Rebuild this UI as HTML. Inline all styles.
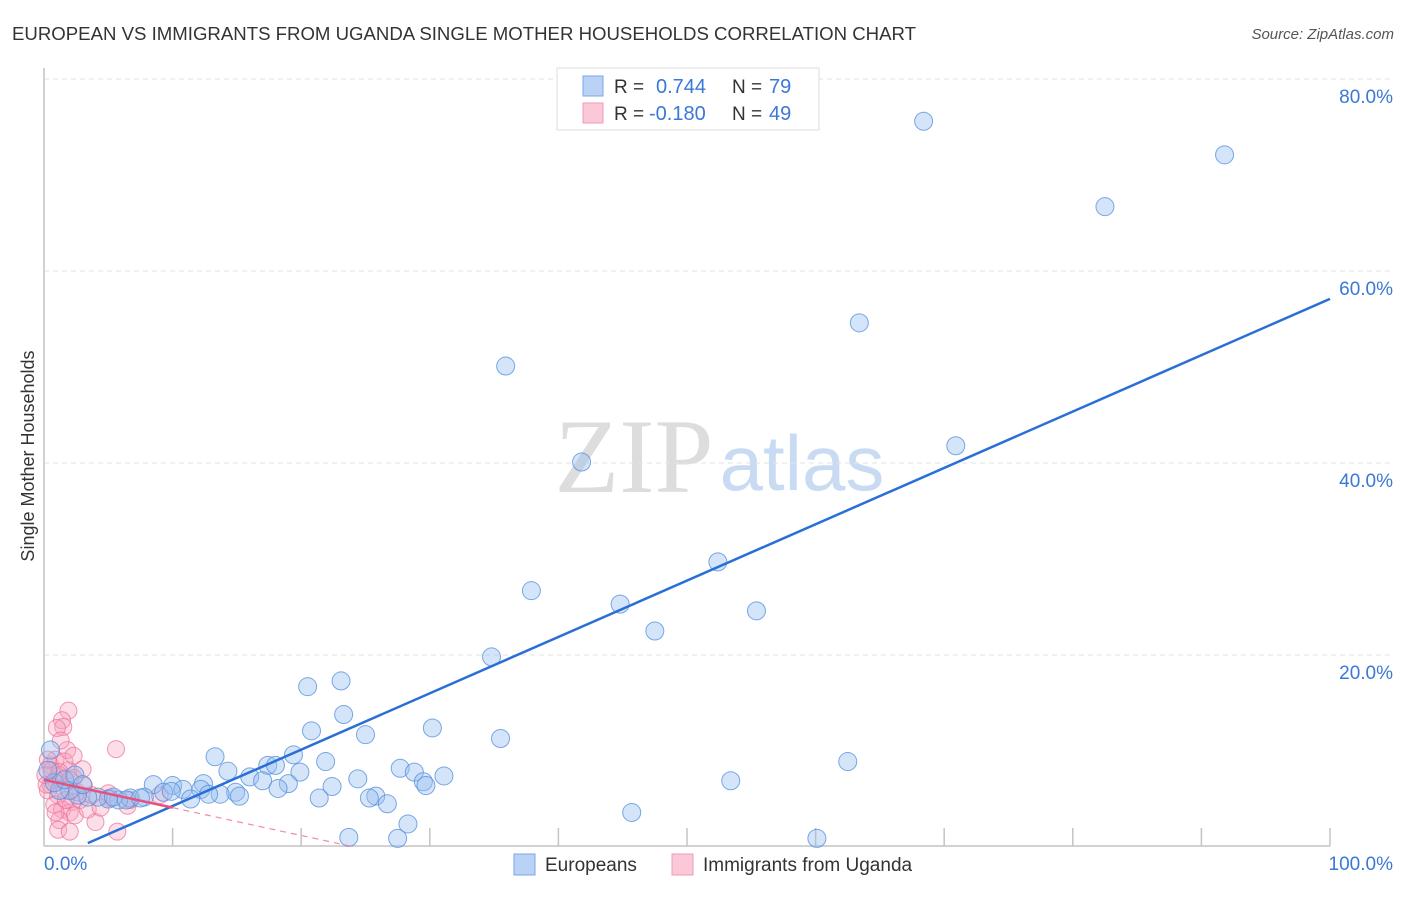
<!DOCTYPE html>
<html><head><meta charset="utf-8"><style>
body{margin:0;background:#fff;font-family:"Liberation Sans",sans-serif;}
svg text{font-family:"Liberation Sans",sans-serif;}
</style></head><body>
<svg id="chart" width="1406" height="892">
<text x="12" y="40" font-size="18" fill="#333" textLength="904" lengthAdjust="spacingAndGlyphs">EUROPEAN VS IMMIGRANTS FROM UGANDA SINGLE MOTHER HOUSEHOLDS CORRELATION CHART</text>
<text x="1394" y="39" font-size="15" fill="#555" text-anchor="end" font-style="italic">Source: ZipAtlas.com</text>
<text x="34" y="456" font-size="18" fill="#333" text-anchor="middle" transform="rotate(-90 34 456)">Single Mother Households</text>
<g><text x="634" y="492" font-size="106" fill="#ddd" text-anchor="middle" style="font-family:'Liberation Serif',serif">ZIP</text><text x="802" y="490" font-size="78" fill="#c9dbf3" text-anchor="middle">atlas</text></g>
<g id="grid"></g><g id="axes"></g><g id="pts"></g><g id="lines"></g>
<g>
<rect x="557" y="68" width="262" height="62" fill="#fff" stroke="#ddd"/>
<rect x="583" y="76" width="20" height="20" fill="#b9d2f5" stroke="#7aa7e6"/>
<rect x="583" y="103" width="20" height="20" fill="#fbc8d8" stroke="#f19ab8"/>
<text x="614" y="93" font-size="19" fill="#333">R = </text><text x="656" y="93" font-size="20" fill="#3a78d6">0.744</text>
<text x="732" y="93" font-size="19" fill="#333">N = </text><text x="769" y="93" font-size="20" fill="#3a78d6">79</text>
<text x="614" y="120" font-size="19" fill="#333">R = </text><text x="649" y="120" font-size="20" fill="#3a78d6">-0.180</text>
<text x="732" y="120" font-size="19" fill="#333">N = </text><text x="769" y="120" font-size="20" fill="#3a78d6">49</text>
</g>
<g>
<rect x="514" y="854" width="21" height="21" fill="#b9d2f5" stroke="#7aa7e6"/>
<text x="545" y="871" font-size="19" fill="#333">Europeans</text>
<rect x="672" y="854" width="21" height="21" fill="#fbc8d8" stroke="#f19ab8"/>
<text x="703" y="871" font-size="19" fill="#333">Immigrants from Uganda</text>
</g>
</svg>
<script>
const yTicks=[20,40,60,80];
const yTickLabels=["20.0%","40.0%","60.0%","80.0%"];
const xTicks=[10,20,30,40,50,60,70,80,90,100];
const blueX=[68.4,91.8,82.5,63.4,35.9,70.9,41.8,52.4,37.9,44.8,55.4,47.5,34.8,20.5,23.1,23.3,20.8,30.2,25.0,35.5,13.3,62.5,53.4,19.4,21.9,17.4,18.0,14.3,16.0,17.0,19.9,27.7,28.8,31.1,24.4,29.5,29.7,22.4,19.0,18.2,14.9,12.4,12.2,13.7,15.2,10.0,8.5,10.8,9.3,11.4,12.8,9.9,7.8,6.7,5.8,5.0,4.2,3.4,2.6,2.0,1.2,0.8,0.5,0.3,1.6,25.8,25.3,21.4,26.7,45.7,28.3,23.7,27.5,60.1,2.4,3.0,5.4,6.4,7.5];
const blueY=[75.6,72.1,66.7,54.6,50.1,41.8,40.1,29.7,26.7,25.3,24.6,22.5,19.8,16.7,17.3,13.8,12.1,12.4,11.7,11.3,9.4,8.9,6.9,9.6,8.9,8.5,8.5,7.9,7.3,6.9,7.8,8.2,7.8,7.4,7.1,6.8,6.4,6.3,6.6,6.1,5.7,6.6,6.0,5.5,5.3,6.4,6.5,6.0,5.7,5.0,5.5,5.8,5.2,5.1,4.9,5.0,5.2,5.2,5.4,5.9,5.9,6.7,10.1,8.0,7.0,5.3,5.1,5.1,4.5,3.6,2.4,1.0,0.9,0.9,7.5,6.5,5.2,4.9,5.1];
const pinkX=[1.9,1.4,1.5,1.0,1.8,5.6,1.9,3.0,1.2,0.9,0.5,0.3,1.1,1.6,2.8,2.2,0.8,1.4,2.0,2.4,4.0,1.2,1.1,2.0,5.7,0.5,0.9,1.6,2.3,2.6,5.0,6.5,5.1,0.1,0.2,0.6,1.2,2.0,1.7,0.9,3.4,4.4,0.3,1.3,2.3,3.1,3.7,6.7,9.0];
const pinkY=[14.2,13.2,12.5,12.4,10.1,10.2,8.0,8.1,7.5,7.0,6.5,5.9,5.4,5.9,4.9,4.7,4.4,3.9,3.6,3.3,2.6,2.8,1.8,1.6,1.6,8.5,9.1,8.9,7.2,5.7,5.6,4.3,5.1,7.5,6.5,8.0,7.8,7.0,4.9,3.6,3.9,4.1,9.1,11.1,9.5,6.4,5.4,4.9,5.4];
const blueTrend=[-1.6,0.587];
const pinkTrend=[7.0,-0.29];
const sx=v=>44+v*12.86, sy=v=>847-v*9.6;
const NS="http://www.w3.org/2000/svg";
function mk(p,t,a){const e=document.createElementNS(NS,t);for(const k in a)e.setAttribute(k,a[k]);p.appendChild(e);return e;}
const grid=document.getElementById('grid'),axes=document.getElementById('axes'),pts=document.getElementById('pts'),lines=document.getElementById('lines');
yTicks.forEach((t,i)=>{
 const l=mk(grid,'line',{x1:44,x2:1394,y1:sy(t),y2:sy(t),stroke:'#e3e3e3','stroke-dasharray':'5,4'});
 
 
 const tx=mk(axes,'text',{x:1393,y:sy(t)+24,'font-size':19,fill:'#3a78d6','text-anchor':'end'});tx.textContent=yTickLabels[i];
 
 
});
mk(axes,'line',{x1:44,x2:44,y1:68,y2:846,stroke:'#c4c4c4','stroke-width':1.5});
mk(axes,'line',{x1:44,x2:1330,y1:846,y2:846,stroke:'#c4c4c4','stroke-width':1.5});
xTicks.forEach(t=>{const l=mk(axes,'line',{x1:sx(t),x2:sx(t),y1:828,y2:846,stroke:'#c4c4c4','stroke-width':1.5});
 
 });
const x0=mk(axes,'text',{x:44,y:870,'font-size':19,fill:'#3a78d6'});x0.textContent='0.0%';


const x1=mk(axes,'text',{x:1393,y:870,'font-size':19,fill:'#3a78d6','text-anchor':'end'});x1.textContent='100.0%';


pinkX.forEach((x,i)=>{const c=mk(pts,'circle',{cx:sx(x),cy:sy(pinkY[i]),r:8.5,fill:'rgba(246,160,190,0.35)',stroke:'rgba(236,110,150,0.7)','stroke-width':1});
 
 });
blueX.forEach((x,i)=>{const c=mk(pts,'circle',{cx:sx(x),cy:sy(blueY[i]),r:9,fill:'rgba(150,190,240,0.4)',stroke:'rgba(80,140,220,0.75)','stroke-width':1});
 
 });
const bx0=(0.4-blueTrend[0])/blueTrend[1];
const bl=mk(lines,'line',{x1:sx(bx0),y1:sy(blueTrend[0]+blueTrend[1]*bx0),x2:sx(100),y2:sy(blueTrend[0]+blueTrend[1]*100),stroke:'#2a6fd6','stroke-width':2.5});


const pl=mk(lines,'line',{x1:sx(0),y1:sy(pinkTrend[0]),x2:sx(10),y2:sy(pinkTrend[0]+pinkTrend[1]*10),stroke:'#e8507e','stroke-width':2.5});


const pd=mk(lines,'line',{x1:sx(10),y1:sy(pinkTrend[0]+pinkTrend[1]*10),x2:sx(24),y2:sy(pinkTrend[0]+pinkTrend[1]*24),stroke:'#f08aaa','stroke-width':1.2,'stroke-dasharray':'6,5'});


</script>
</body></html>
